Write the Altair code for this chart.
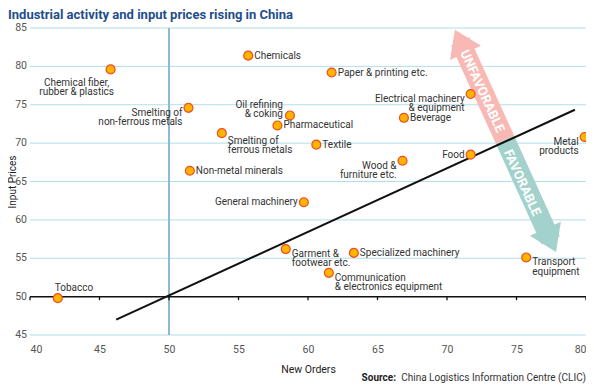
import altair as alt
import pandas as pd

# ---------------- data ----------------
labels = [
    "Chemical fiber,\nrubber & plastics", "Chemicals", "Smelting of\nnon-ferrous metals",
    "Oil refining\n& coking", "Pharmaceutical", "Smelting of\nferrous metals",
    "Paper & printing etc.", "Electrical machinery\n& equipment", "Beverage",
    "Metal\nproducts", "Textile", "Food", "Wood &\nfurniture etc.", "General machinery",
    "Non-metal minerals", "Garment &\nfootwear etc.", "Specialized machinery",
    "Transport\nequipment", "Communication\n& electronics equipment", "Tobacco",
]
new_orders = [45.8, 55.7, 51.4, 58.7, 57.8, 53.8, 61.7, 71.7, 66.9, 79.9,
              60.6, 71.7, 66.8, 59.7, 51.5, 58.4, 63.3, 75.7, 61.5, 42.0]
input_prices = [79.6, 81.4, 74.6, 73.6, 72.3, 71.3, 79.2, 76.4, 73.3, 70.8,
                69.8, 68.5, 67.7, 62.3, 66.4, 56.2, 55.7, 55.1, 53.1, 49.8]

trend_x = [46.2, 79.2]
trend_y = [47.0, 74.35]

x_ticks = [40, 45, 50, 55, 60, 65, 70, 75, 80]
y_ticks = [45, 50, 55, 60, 65, 70, 75, 80, 85]

# arrow annotation (data coordinates): tail, head
arrow_names = ["UNFAVORABLE", "FAVORABLE"]
arrow_tail_x = [74.18, 74.18]
arrow_tail_y = [70.43, 70.43]
arrow_head_x = [70.95, 77.46]
arrow_head_y = [83.27, 57.34]
arrow_text_x = [72.53, 75.40]
arrow_text_y = [76.76, 64.82]

title = "Industrial activity and input prices rising in China"
source_bold = "Source:"
source_rest = "China Logistics Information Centre (CLIC)"

# ---------------- layout of labels ----------------
placement = {
    "Chemical fiber,\nrubber & plastics": "below2",
    "Chemicals": "right",
    "Smelting of\nnon-ferrous metals": "left2",
    "Oil refining\n& coking": "aboveleft2",
    "Pharmaceutical": "right",
    "Smelting of\nferrous metals": "right2low",
    "Paper & printing etc.": "right",
    "Electrical machinery\n& equipment": "left2",
    "Beverage": "right",
    "Metal\nproducts": "left2",
    "Textile": "right",
    "Food": "left",
    "Wood &\nfurniture etc.": "left2",
    "General machinery": "left",
    "Non-metal minerals": "right",
    "Garment &\nfootwear etc.": "right2",
    "Specialized machinery": "right",
    "Transport\nequipment": "right2",
    "Communication\n& electronics equipment": "right2",
    "Tobacco": "above",
}
groups = {
    "right": ("left", 6, 0),
    "left": ("right", -6, 0),
    "right2": ("left", 6, 4.75),
    "right2low": ("left", 6, 7.75),
    "left2": ("right", -6, 4.75),
    "aboveleft2": ("right", -7, -10.5),
    "below2": ("center", -34, 13.5),
    "above": ("left", -3, -10),
}

FONT = "Roboto"

df = pd.DataFrame({"label": labels, "x": new_orders, "y": input_prices})
df["group"] = [placement[l] for l in labels]

xs = alt.Scale(domain=[40, 80], nice=False, zero=False)
ys = alt.Scale(domain=[45, 85], nice=False, zero=False)

base = alt.Chart(df)

axes = alt.Chart(pd.DataFrame({"x": [40, 80], "y": [45, 85]})).mark_point(opacity=0).encode(
    x=alt.X("x:Q", scale=xs, title="New Orders",
            axis=alt.Axis(values=x_ticks, grid=False, domain=False, ticks=False,
                          labelOverlap=False, labelPadding=9, labelFontSize=10.5,
                          labelColor="#555555", labelFont=FONT, titleFont=FONT,
                          titleFontSize=10.5, titleFontWeight="normal", titleColor="#222222",
                          titleY=34, titleBaseline="middle")),
    y=alt.Y("y:Q", scale=ys, title="Input Prices",
            axis=alt.Axis(labels=False, grid=False, domain=False, ticks=False,
                          titleFont=FONT, titleFontSize=10, titleFontWeight="normal",
                          titleColor="#222222", titleX=-18, titleY=153.5, titleAngle=-90,
                          titleAlign="center", titleBaseline="middle")),
)

ydf = pd.DataFrame({"y": y_ticks, "x": [40] * len(y_ticks), "x2": [80] * len(y_ticks)})
grid = alt.Chart(ydf).mark_rule(color="#B3DDE8", strokeWidth=1).encode(
    x=alt.X("x:Q", scale=xs), x2="x2:Q", y=alt.Y("y:Q", scale=ys))
ylabels = alt.Chart(ydf).mark_text(
    align="right", baseline="middle", font=FONT, fontSize=10.5, color="#555555").encode(
    x=alt.value(-3), y=alt.Y("y:Q", scale=ys), text=alt.Text("y:Q", format="d"))

vline = alt.Chart(pd.DataFrame({"x": [50], "y": [45], "y2": [85]})).mark_rule(
    color="#8DBAD3", strokeWidth=2).encode(x=alt.X("x:Q", scale=xs), y=alt.Y("y:Q", scale=ys), y2="y2:Q")

hline = alt.Chart(pd.DataFrame({"x": [40], "x2": [80], "y": [50]})).mark_rule(
    color="#111111", strokeWidth=1.5).encode(x=alt.X("x:Q", scale=xs), x2="x2:Q", y=alt.Y("y:Q", scale=ys))

ticks = alt.Chart(pd.DataFrame({"x": x_ticks, "y": [50] * len(x_ticks)})).mark_point(
    shape="M0,0L0,1", size=49, stroke="#111111", strokeWidth=1.3, filled=False, opacity=1
).encode(x=alt.X("x:Q", scale=xs), y=alt.Y("y:Q", scale=ys))

adf = pd.DataFrame({"name": arrow_names, "tx": arrow_tail_x, "ty": arrow_tail_y,
                    "hx": arrow_head_x, "hy": arrow_head_y,
                    "lx": arrow_text_x, "ly": arrow_text_y})
arrow_color = alt.Scale(domain=arrow_names, range=["#F8B8B3", "#A2D2CB"])

shafts = alt.Chart(adf).mark_rule(strokeWidth=20, strokeCap="butt").encode(
    x=alt.X("tx:Q", scale=xs), y=alt.Y("ty:Q", scale=ys), x2="hx:Q", y2="hy:Q",
    color=alt.Color("name:N", scale=arrow_color, legend=None))

head_up = alt.Chart(adf).transform_filter(alt.datum.name == "UNFAVORABLE").mark_point(
    shape="M0,-0.75L1,0.75L-1,0.75Z", size=1156, angle=335.5, filled=True, opacity=1,
    color="#F8B8B3", strokeWidth=0).encode(x=alt.X("hx:Q", scale=xs), y=alt.Y("hy:Q", scale=ys))
head_down = alt.Chart(adf).transform_filter(alt.datum.name == "FAVORABLE").mark_point(
    shape="M0,0.75L1,-0.75L-1,-0.75Z", size=1156, angle=335.5, filled=True, opacity=1,
    color="#A2D2CB", strokeWidth=0).encode(x=alt.X("hx:Q", scale=xs), y=alt.Y("hy:Q", scale=ys))

arrow_text = alt.Chart(adf).mark_text(
    angle=65.5, color="white", font=FONT, fontSize=13, fontWeight="bold",
    align="center", baseline="middle").encode(
    x=alt.X("lx:Q", scale=xs), y=alt.Y("ly:Q", scale=ys), text="name:N")

trend = alt.Chart(pd.DataFrame({"x": trend_x, "y": trend_y})).mark_line(
    color="#111111", strokeWidth=2).encode(x=alt.X("x:Q", scale=xs), y=alt.Y("y:Q", scale=ys))

points = base.mark_point(filled=True, size=80, fill="#FFB400", stroke="#EE4D22",
                         strokeWidth=1.2, opacity=1).encode(
    x=alt.X("x:Q", scale=xs), y=alt.Y("y:Q", scale=ys))

text_layers = []
for g, (al, dx, dy) in groups.items():
    text_layers.append(
        base.transform_filter(alt.datum.group == g).mark_text(
            align=al, baseline="middle", dx=dx, dy=dy, font=FONT, fontSize=10,
            color="#333333", lineBreak="\n", lineHeight=9.5).encode(
            x=alt.X("x:Q", scale=xs), y=alt.Y("y:Q", scale=ys), text="label:N"))

title_mark = alt.Chart(pd.DataFrame({"t": [title]})).mark_text(
    align="left", baseline="alphabetic", font=FONT, fontSize=13, fontWeight="bold",
    color="#1F4E8C").encode(x=alt.value(-22), y=alt.value(-9), text="t:N")

src1 = alt.Chart(pd.DataFrame({"t": [source_bold]})).mark_text(
    align="right", baseline="middle", font=FONT, fontSize=10, fontWeight="bold",
    color="#222222").encode(x=alt.value(366), y=alt.value(350), text="t:N")
src2 = alt.Chart(pd.DataFrame({"t": [source_rest]})).mark_text(
    align="right", baseline="middle", font=FONT, fontSize=10,
    color="#333333").encode(x=alt.value(556), y=alt.value(350), text="t:N")

chart = alt.layer(
    axes, grid, ylabels, vline, shafts, head_up, head_down, arrow_text, hline, ticks,
    trend, points, *text_layers, title_mark, src1, src2
).properties(
    width=556, height=307,
    autosize=alt.AutoSizeParams(type="none"),
    padding={"left": 22, "top": 20, "right": 0, "bottom": 49},
).configure_view(stroke=None)

chart.save("out.html", embed_options={"renderer": "svg", "actions": False})
